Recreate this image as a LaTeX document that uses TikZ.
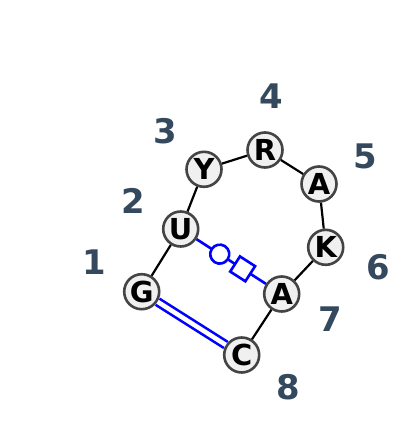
\documentclass[tikz,border=0pt]{standalone}
\usepackage{fontspec}
\setmainfont{DejaVu Sans}
\definecolor{numcol}{HTML}{34495E}
\definecolor{ringcol}{HTML}{444444}
\definecolor{fillcol}{HTML}{F0F0F0}
\definecolor{lwblue}{HTML}{0000FF}
\tikzset{
  nt/.style={circle, draw=ringcol, line width=2.6bp, fill=fillcol, minimum size=35bp, inner sep=0pt, font=\fontsize{29}{29}\selectfont\bfseries},
  num/.style={text=numcol, inner sep=0pt, font=\fontsize{34}{34}\selectfont\bfseries},
  bb/.style={black, line width=2.2bp},
  pairline/.style={lwblue, line width=2.6bp},
  wcsym/.style={circle, draw=lwblue, line width=2.6bp, fill=white, minimum size=19bp, inner sep=0pt, sloped},
  hgsym/.style={rectangle, draw=lwblue, line width=2.6bp, fill=white, minimum size=18bp, inner sep=0pt, sloped}
}
\begin{document}
\begin{tikzpicture}[x=1bp,y=-1bp]
\useasboundingbox (0,0) rectangle (400,438);
\node[nt] (G) at (141.7,291.7) {G};
\node[nt] (U) at (180.7,229) {U};
\node[nt] (Y) at (204,169.3) {Y};
\node[nt] (R) at (265,150) {R};
\node[nt] (A5) at (319,184) {A};
\node[nt] (K) at (325.7,247.3) {K};
\node[nt] (A7) at (281.7,294) {A};
\node[nt] (C) at (241.7,355) {C};
\node[num] (n1) at (94,262) {1};
\node[num] (n2) at (133,201) {2};
\node[num] (n3) at (165,131) {3};
\node[num] (n4) at (271,96) {4};
\node[num] (n5) at (365,156) {5};
\node[num] (n6) at (378,267) {6};
\node[num] (n7) at (330,319) {7};
\node[num] (n8) at (288,387) {8};
\draw[bb] (G) -- (U);
\draw[bb] (U) -- (Y);
\draw[bb] (Y) -- (R);
\draw[bb] (R) -- (A5);
\draw[bb] (A5) -- (K);
\draw[bb] (K) -- (A7);
\draw[bb] (A7) -- (C);
\draw[pairline, double=white, double distance=4.5bp] (G) -- (C);
\draw[pairline] (U) -- (A7)
  node[wcsym, pos=0.335] (wc) {}
  node[hgsym, pos=0.665] (hg) {};
\end{tikzpicture}
\end{document}
